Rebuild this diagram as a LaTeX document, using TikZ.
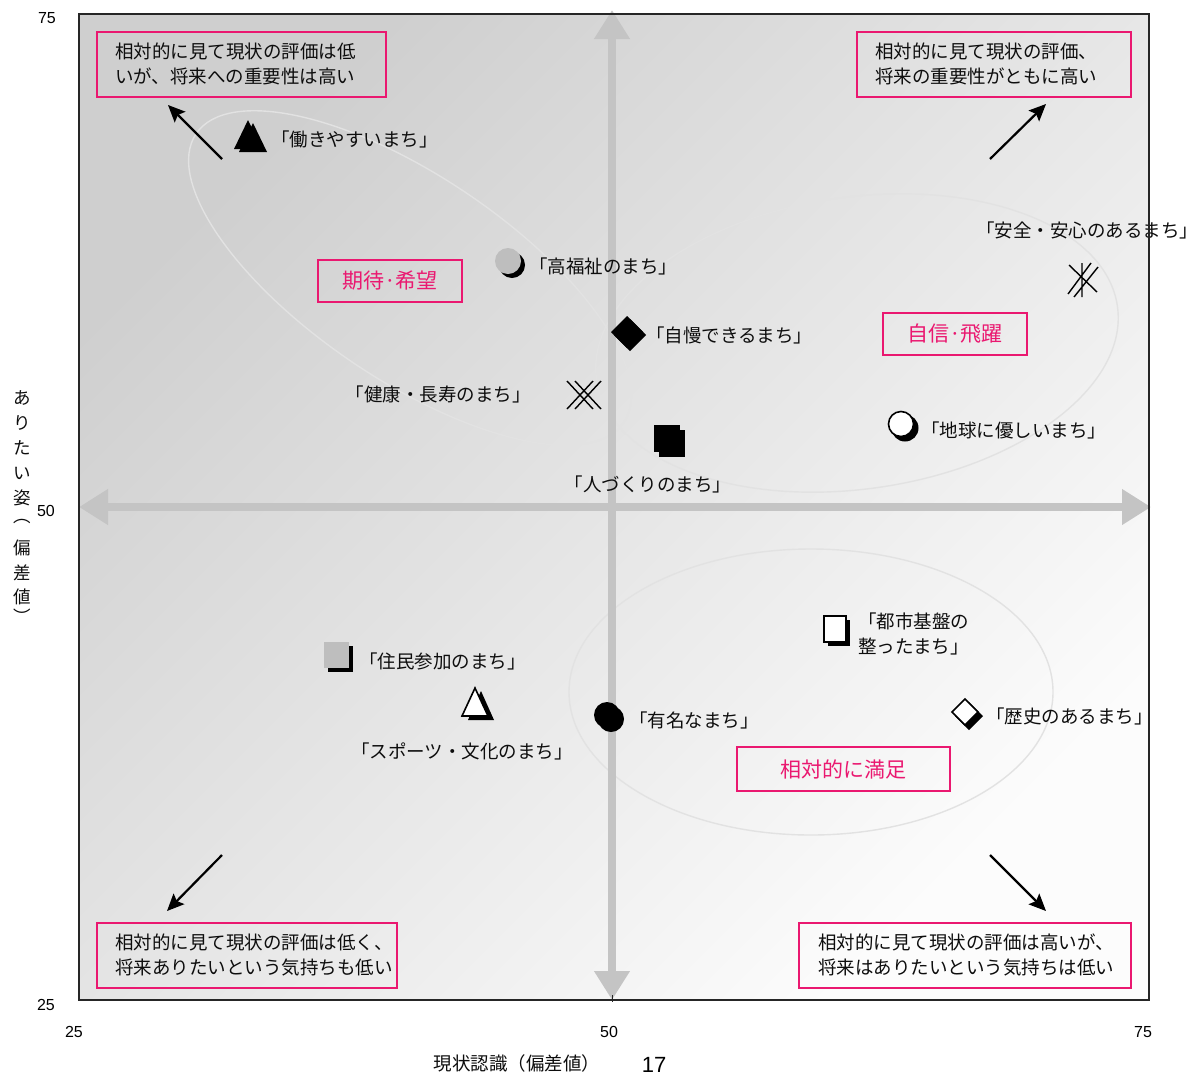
\documentclass[tikz,border=0pt]{standalone}
\usepackage{fontspec}
\setmainfont{Noto Sans CJK JP}
\newfontfamily\numfont{Liberation Sans}
\usetikzlibrary{arrows.meta}
\definecolor{hot}{RGB}{234,24,112}
\definecolor{axisgray}{RGB}{196,196,196}
\definecolor{ringgray}{RGB}{226,226,226}
\definecolor{markgray}{RGB}{190,190,190}
\begin{document}
\begin{tikzpicture}[x=1pt,y=-1pt,
  lbl/.style={inner sep=0pt, font=\fontsize{18.5}{25}\selectfont, text=black!95},
  pinklbl/.style={draw=hot, line width=1.8pt, text=hot, inner sep=0pt,
    font=\fontsize{21}{24}\selectfont},
  cornerbox/.style={draw=hot, line width=1.8pt, inner sep=0pt, anchor=north west},
  cornertext/.style={lbl, align=left, anchor=west},
  num/.style={inner sep=0pt, font=\numfont\fontsize{16}{18}\selectfont},
  ring/.style={draw=ringgray, line width=1.4pt},
  bigaxis/.style={axisgray, line width=8pt,
    {Triangle[length=29pt,width=34pt]}-{Triangle[length=29pt,width=34pt]}},
  trend/.style={line width=2.2pt, -{Stealth[length=17pt,width=15pt,inset=3pt]}},
  mline/.style={line width=1.4pt},
  outline/.style={fill=white, draw=black, line width=1.6pt}
]
\useasboundingbox (0,0) rectangle (1199,1077);

% plot area with diagonal gradient
\shade[top color=black!19, bottom color=black!1, shading angle=45]
  (79,14) rectangle (1149,1000);

% grouping ellipses
\draw[ring, rotate around={-34:(410,278)}] (410,278) ellipse [x radius=258, y radius=102];
\draw[ring, rotate around={8:(857,343)}] (857,343) ellipse [x radius=263, y radius=146];
\draw[ring] (811,692) ellipse [x radius=242, y radius=143];

% axes
\coordinate (vtop) at (612,10);
\coordinate (vbot) at (612,1000);
\coordinate (hleft) at (79,507);
\coordinate (hright) at (1151,507);
\draw[bigaxis] (vbot) -- (vtop);
\draw[bigaxis] (hleft) -- (hright);

% quadrant trend arrows
\coordinate (tlA) at (222,159); \coordinate (tlB) at (168,105);
\coordinate (trA) at (990,159); \coordinate (trB) at (1046,104);
\coordinate (blA) at (222,855); \coordinate (blB) at (167,911);
\coordinate (brA) at (990,855); \coordinate (brB) at (1046,911);
\draw[trend] (tlA) -- (tlB);
\draw[trend] (trA) -- (trB);
\draw[trend] (blA) -- (blB);
\draw[trend] (brA) -- (brB);

% quadrant explanation boxes
\node[cornerbox, minimum width=289pt, minimum height=65pt] (tlbox) at (96,31) {};
\node[cornertext] (tltext) at ([xshift=19pt]tlbox.west) {相対的に見て現状の評価は低\\いが、将来への重要性は高い};
\node[cornerbox, minimum width=274pt, minimum height=65pt] (trbox) at (856,31) {};
\node[cornertext] (trtext) at ([xshift=19pt]trbox.west) {相対的に見て現状の評価、\\将来の重要性がともに高い};
\node[cornerbox, minimum width=300pt, minimum height=65pt] (blbox) at (96,922) {};
\node[cornertext] (bltext) at ([xshift=19pt]blbox.west) {相対的に見て現状の評価は低く、\\将来ありたいという気持ちも低い};
\node[cornerbox, minimum width=332pt, minimum height=65pt] (brbox) at (798,922) {};
\node[cornertext] (brtext) at ([xshift=20pt]brbox.west) {相対的に見て現状の評価は高いが、\\将来はありたいという気持ちは低い};

% group labels
\node[pinklbl, minimum width=144pt, minimum height=42pt] (hope) at (390,281) {期待·希望};
\node[pinklbl, minimum width=144pt, minimum height=42pt] (conf) at (955,334) {自信·飛躍};
\node[pinklbl, minimum width=213pt, minimum height=44pt] (sat) at (843.5,769) {相対的に満足};

% markers
% working town: double black triangle
\fill (253,123) -- (239,152) -- (267,152) -- cycle;
\fill (248,120) -- (234,149) -- (262,149) -- cycle;
% welfare: gray circle
\fill (512,265) circle[radius=13pt];
\fill[markgray] (508,261) circle[radius=13pt];
% pride: black diamond
\fill (630,335) +(0,-16) -- +(16,0) -- +(0,16) -- +(-16,0) -- cycle;
\fill (627,332) +(0,-16) -- +(16,0) -- +(0,16) -- +(-16,0) -- cycle;
% health: double cross
\draw[mline] (567,381) -- (593,409) (567,409) -- (593,381)
             (575,381) -- (601,409) (575,409) -- (601,381);
% people: black square
\fill (659,430) rectangle (685,457);
\fill (654,425) rectangle (680,452);
% safety: starburst
\draw[mline] (1082,263) -- (1082,297) (1069,265) -- (1097,292)
             (1068,294) -- (1091,263) (1074,297) -- (1098,267);
% environment: white circle
\fill (905,428) circle[radius=13.5pt];
\draw[outline] (901,424) circle[radius=12.5pt];
% infrastructure: white square
\fill (828,620) rectangle (850,646);
\draw[outline] (824,616) rectangle (846,642);
% participation: gray square
\fill (328,646) rectangle (353,672);
\fill[markgray] (324,642) rectangle (349,668);
% sports & culture: white triangle
\fill (481,691) -- (468,720) -- (494,720) -- cycle;
\draw[outline] (475,688) -- (462,716) -- (488,716) -- cycle;
% famous: black circle
\fill (611,719) circle[radius=13pt];
\fill (607,715) circle[radius=13pt];
% history: white diamond
\fill (969,716) +(0,-14) -- +(14,0) -- +(0,14) -- +(-14,0) -- cycle;
\draw[outline] (965,712) +(0,-13) -- +(13,0) -- +(0,13) -- +(-13,0) -- cycle;

% item labels
\node[lbl, anchor=west] (work) at (271,139) {「働きやすいまち」};
\node[lbl, anchor=west] (welf) at (529,266) {「高福祉のまち」};
\node[lbl, anchor=west] (prid) at (646,335) {「自慢できるまち」};
\node[lbl, anchor=east] (heal) at (531,394) {「健康・長寿のまち」};
\node[lbl] (peop) at (648,484) {「人づくりのまち」};
\node[lbl, anchor=west] (safe) at (976,230) {「安全・安心のあるまち」};
\node[lbl, anchor=west] (envi) at (921,430) {「地球に優しいまち」};
\node[lbl, anchor=west, align=left] (infr) at (858,634) {「都市基盤の\\整ったまち」};
\node[lbl, anchor=west] (part) at (359,661) {「住民参加のまち」};
\node[lbl] (spor) at (462,751) {「スポーツ・文化のまち」};
\node[lbl, anchor=west] (famo) at (629,720) {「有名なまち」};
\node[lbl, anchor=west] (hist) at (986,716) {「歴史のあるまち」};

% frame
\draw[black!85, line width=1.8pt] (79,14) rectangle (1149,1000);
\draw[black!85, line width=1pt] (612,995) -- (612,1002);

% scale numbers
\node[num] (y75) at (47,18) {75};
\node[num] (y50) at (46,511) {50};
\node[num] (y25) at (46,1005) {25};
\node[num] (x25) at (74,1032) {25};
\node[num] (x50) at (609,1032) {50};
\node[num] (x75) at (1143,1032) {75};
\node[inner sep=0pt, font=\numfont\fontsize{22}{24}\selectfont] (pg) at (654,1065) {17};

% axis titles
\node[lbl] (xtitle) at (517,1063) {現状認識（偏差値）};
\foreach \c/\yy [count=\i] in {あ/398,り/423,た/448,い/473,姿/498,︵/522,偏/548,差/573,値/597,︶/616}
  \node[lbl, font=\fontsize{17.5}{20}\selectfont] (yt\i) at (22,\yy) {\c};
\end{tikzpicture}
\end{document}
